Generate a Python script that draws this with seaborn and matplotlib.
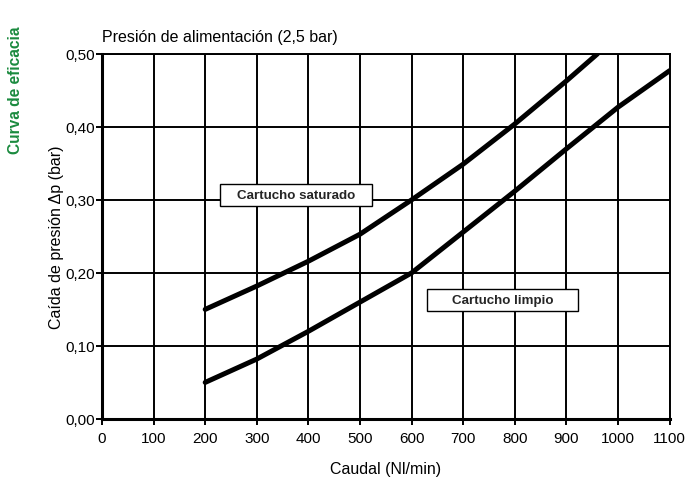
import matplotlib
matplotlib.use("Agg")
import matplotlib.pyplot as plt
import seaborn as sns
import pandas as pd
from matplotlib.ticker import FuncFormatter
from matplotlib.patches import Rectangle

# Data
caudal_saturado = [200, 300, 400, 500, 600, 700, 800, 900, 960]
dp_saturado = [0.15, 0.182, 0.216, 0.253, 0.30, 0.349, 0.404, 0.463, 0.50]
caudal_limpio = [200, 300, 400, 500, 600, 700, 800, 900, 1000, 1100]
dp_limpio = [0.05, 0.082, 0.12, 0.16, 0.20, 0.256, 0.312, 0.37, 0.427, 0.477]
x_ticks = [0, 100, 200, 300, 400, 500, 600, 700, 800, 900, 1000, 1100]
y_ticks = [0.0, 0.1, 0.2, 0.3, 0.4, 0.5]

sns.set_theme(style="white")
plt.rcParams['font.family'] = ['Liberation Sans', 'DejaVu Sans']

fig = plt.figure(figsize=(6.89, 4.81), dpi=100)
ax = fig.add_axes([0.148, 0.127, 0.824, 0.759])

df_s = pd.DataFrame({"x": caudal_saturado, "y": dp_saturado})
df_l = pd.DataFrame({"x": caudal_limpio, "y": dp_limpio})
sns.lineplot(data=df_s, x="x", y="y", ax=ax, color="black", linewidth=3.6, zorder=5)
sns.lineplot(data=df_l, x="x", y="y", ax=ax, color="black", linewidth=3.6, zorder=5)

ax.set_xlim(0, 1100)
ax.set_ylim(0, 0.5)
ax.set_xticks(x_ticks)
ax.set_yticks(y_ticks)
ax.yaxis.set_major_formatter(FuncFormatter(lambda v, p: f"{v:.2f}".replace(".", ",")))
ax.grid(True, color="black", linewidth=1.4)
ax.set_axisbelow(True)
for side in ["top", "right"]:
    ax.spines[side].set_color("black")
    ax.spines[side].set_linewidth(1.4)
for side in ["left", "bottom"]:
    ax.spines[side].set_color("black")
    ax.spines[side].set_linewidth(2.2)
ax.tick_params(axis="both", which="major", direction="out", length=4, width=1.4,
               color="black", labelsize=11, labelcolor="black", left=True, bottom=True)
ax.tick_params(axis="x", pad=5)
ax.tick_params(axis="y", pad=1)

ax.set_xlabel("Caudal (Nl/min)", fontsize=11.5, color="black", labelpad=11)
ax.set_ylabel("Caída de presión Δp (bar)", fontsize=11.5, color="black", labelpad=1)

# label boxes (pixel sizes converted to data units)
px_x = 1100 / (0.824 * 689)
px_y = 0.5 / (0.759 * 481)
labels = [("Cartucho saturado", 376, 0.307, 152), ("Cartucho limpio", 776, 0.163, 151)]
for txt, cx, cy, wpx in labels:
    w = wpx * px_x
    h = 22 * px_y
    ax.add_patch(Rectangle((cx - w / 2, cy - h / 2), w, h, facecolor="white",
                           edgecolor="black", linewidth=1.0, zorder=6))
    ax.text(cx, cy, txt, ha="center", va="center", fontsize=9.6,
            fontweight="bold", zorder=7)

fig.text(0.148, 0.921, "Presión de alimentación (2,5 bar)", fontsize=11.5, ha="left",
         va="center", color="black")
fig.text(0.022, 0.812, "Curva de eficacia", rotation=90, fontsize=11.2, fontweight="bold",
         color="#1a8a3e", ha="center", va="center")

fig.savefig("out.png", dpi=100)
